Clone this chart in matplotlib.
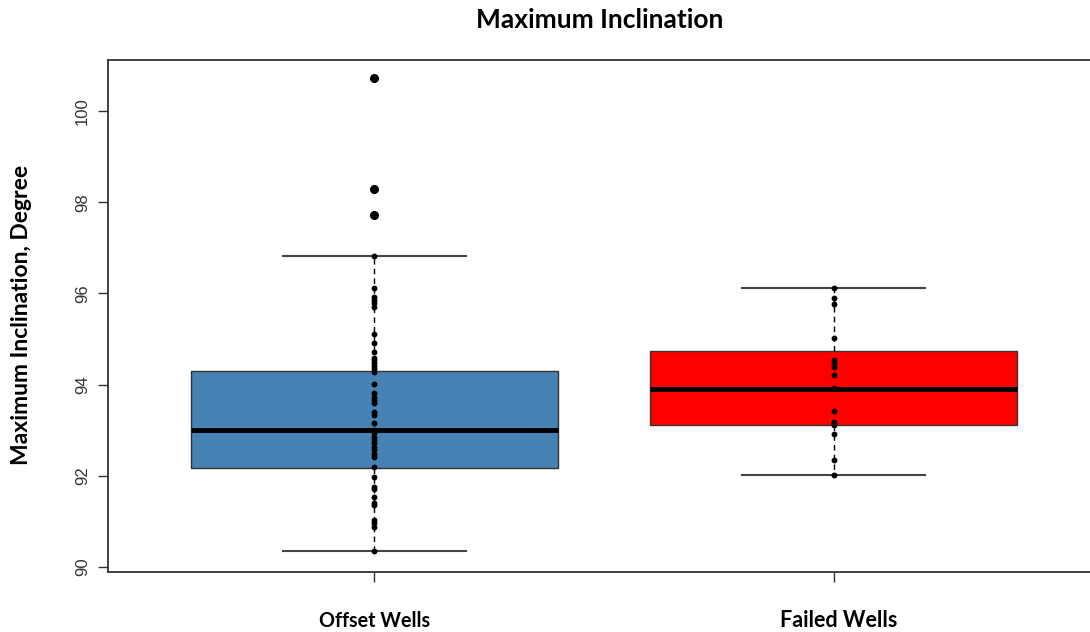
#!/usr/bin/env python3
"""
Boxplot of maximum inclination for offset wells vs failed wells, with the
individual wells drawn on top.
"""

import matplotlib
matplotlib.use("Agg")
import matplotlib.pyplot as plt

groups = ["Offset Wells", "Failed Wells"]
box_colors = ["#4682B4", "#FF0000"]

# box stats (lower whisker, Q1, median, Q3, upper whisker)
whisker_lo = [90.34, 92.02]
q1 = [92.17, 93.11]
medians = [93.00, 93.90]
q3 = [94.30, 94.74]
whisker_hi = [96.82, 96.13]

offset_outliers = [100.72, 98.29, 97.72]
offset_points = [
    96.82, 96.11, 95.93, 95.86, 95.78, 95.71, 95.11, 94.92, 94.72, 94.58,
    94.53, 94.47, 94.41, 94.34, 94.28, 94.01, 93.81, 93.73, 93.66, 93.60,
    93.41, 93.33, 93.15, 93.00, 92.93, 92.86, 92.79, 92.71, 92.64, 92.57,
    92.48, 92.42, 92.19, 91.98, 91.75, 91.70, 91.54, 91.40, 91.36, 91.03,
    90.96, 90.88, 90.34,
]
failed_points = [
    96.13, 95.89, 95.76, 95.02, 94.54, 94.47, 94.38, 94.21, 93.92, 93.43,
    93.19, 93.15, 93.11, 92.92, 92.35, 92.02,
]


def main():
    fig = plt.figure(figsize=(10.9, 6.32), dpi=100)
    ax = fig.add_axes([108 / 1090, 1 - 572 / 632, 992 / 1090, 512 / 632])

    stats = []
    for i, name in enumerate(groups):
        stats.append({
            "label": name,
            "whislo": whisker_lo[i],
            "q1": q1[i],
            "med": medians[i],
            "q3": q3[i],
            "whishi": whisker_hi[i],
            "fliers": [],
        })

    bp = ax.bxp(
        stats, positions=[1, 2], widths=0.8, patch_artist=True,
        showfliers=False,
        boxprops=dict(edgecolor="#333333", linewidth=1.0),
        medianprops=dict(color="black", linewidth=3.5),
        whiskerprops=dict(color="black", linewidth=1.0, linestyle=(0, (4, 3))),
        capprops=dict(color="#444444", linewidth=1.5),
        capwidths=0.4,
    )
    for patch, c in zip(bp["boxes"], box_colors):
        patch.set_facecolor(c)

    # individual wells
    ax.plot([1] * len(offset_outliers), offset_outliers, "o", color="black",
            markersize=5.5, zorder=5)
    ax.plot([1] * len(offset_points), offset_points, "o", color="black",
            markersize=3.2, zorder=5)
    ax.plot([2] * len(failed_points), failed_points, "o", color="black",
            markersize=3.2, zorder=5)

    ax.set_xlim(0.42, 2.58)
    ax.set_ylim(89.89, 101.12)
    ax.set_yticks([90, 92, 94, 96, 98, 100])
    ax.set_yticklabels(["90", "92", "94", "96", "98", "100"], rotation=90,
                       va="center", family="Liberation Sans", fontsize=12,
                       color="#333333")
    ax.set_xticks([1, 2])
    ax.set_xticklabels(["", ""])
    ax.tick_params(axis="both", direction="out", length=7, width=1.0,
                   color="#333333", pad=6)
    for s in ax.spines.values():
        s.set_color("#333333")
        s.set_linewidth(1.3)

    fig.text(600 / 1090, 1 - 20 / 632, "Maximum Inclination", fontsize=19,
             fontweight="bold", family="Lato", ha="center", va="center")
    fig.text(22 / 1090, 1 - 315 / 632, "Maximum Inclination, Degree",
             fontsize=16.5, fontweight="bold", family="Lato", rotation=90,
             ha="center", va="center")
    label_x = [1.0, 2.01]
    label_sizes = [14.2, 15.5]
    for i, name in enumerate(groups):
        ax.text(label_x[i], -0.095, name, transform=ax.get_xaxis_transform(),
                ha="center", va="center", fontsize=label_sizes[i],
                fontweight="bold", family="Lato")

    fig.savefig("out.png", dpi=100)


if __name__ == "__main__":
    main()
